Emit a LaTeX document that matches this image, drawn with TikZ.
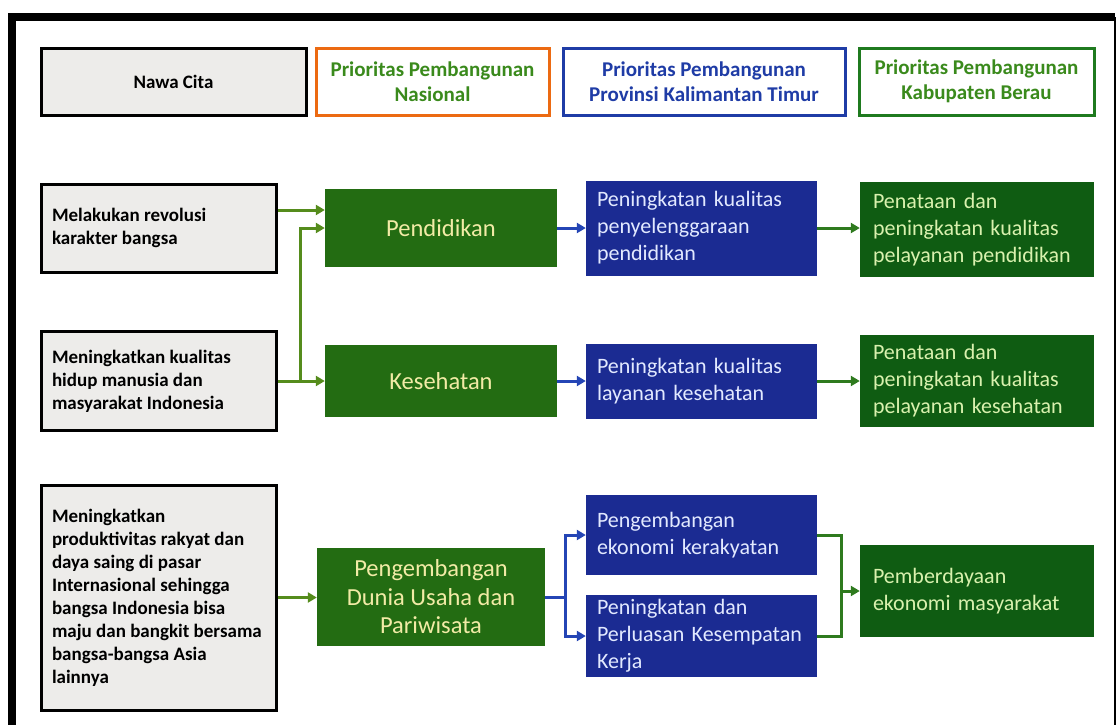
\documentclass[tikz,border=0pt]{standalone}
\usepackage{fontspec}
\setmainfont{Carlito}
\usetikzlibrary{arrows.meta}
\definecolor{lgray}{HTML}{EDECEA}
\definecolor{orangeb}{HTML}{EC6A12}
\definecolor{hgreen}{HTML}{3A8A1C}
\definecolor{hblue}{HTML}{1F3CA6}
\definecolor{kgreen}{HTML}{1F7A1F}
\definecolor{gfillA}{HTML}{236C12}
\definecolor{gtextA}{HTML}{F2EBA6}
\definecolor{bfill}{HTML}{1B2B92}
\definecolor{btext}{HTML}{E2E9FF}
\definecolor{gfillB}{HTML}{0F5C12}
\definecolor{gtextB}{HTML}{D9F1AE}
\definecolor{arrA}{HTML}{558C1C}
\definecolor{arrB}{HTML}{2E7A1E}
\definecolor{arrC}{HTML}{2445B5}
\begin{document}
\begin{tikzpicture}[x=1pt,y=-1pt,
  hdr/.style={draw=#1, line width=3pt, fill=white, font=\bfseries\fontsize{21}{25.5}\selectfont, align=center, inner sep=0pt, minimum height=67pt},
  lbox/.style={draw=black, line width=3pt, fill=lgray, font=\bfseries\fontsize{19}{23}\selectfont, align=left, inner xsep=11pt, inner ysep=0pt, text width=213pt, execute at begin node={\spaceskip=0pt\xspaceskip=0pt\relax}},
  colA/.style={fill=gfillA, text=gtextA, font=\fontsize{24.5}{28.5}\selectfont, align=center, inner sep=0pt},
  colB/.style={fill=bfill, text=btext, font=\fontsize{22}{27}\selectfont, align=left, inner xsep=11pt, inner ysep=0pt, text width=209pt},
  colC/.style={fill=gfillB, text=gtextB, font=\fontsize{22}{27}\selectfont, align=left, inner xsep=13pt, inner ysep=0pt, text width=208pt},
  ga/.style={draw=arrA, line width=3pt, -{Triangle[length=9pt,width=10pt]}},
  gb/.style={draw=arrB, line width=3pt, -{Triangle[length=9pt,width=10pt]}},
  gbl/.style={draw=arrB, line width=3pt},
  ba/.style={draw=arrC, line width=3pt, -{Triangle[length=9pt,width=10pt]}},
  bal/.style={draw=arrC, line width=3pt}
]
\useasboundingbox (0,0) rectangle (1117,724);
\fill[white] (0,0) rectangle (1117,724);
% frame
\draw[line width=8pt, line join=miter] (12,730) -- (12,17) -- (1115,17);
\draw[line width=2pt] (1115,17) -- (1115,730);

% headers
\node[hdr=black, fill=lgray, minimum width=265pt, font=\bfseries\fontsize{19}{23}\selectfont] (h1) at (173.5,81.5) {Nawa Cita};
\node[hdr=orangeb, text=hgreen, minimum width=233pt] (h2) at (432.5,81.5) {Prioritas Pembangunan\\Nasional};
\node[hdr=hblue, text=hblue, minimum width=282pt] (h3) at (704,81.5) {Prioritas Pembangunan\\Provinsi Kalimantan Timur};
\node[hdr=kgreen, text=hgreen, minimum width=235pt] (h4) at (976.5,81.5) {Prioritas Pembangunan\\Kabupaten Berau};

% row 1
\node[lbox, minimum height=88pt] (m1) at (158.5,228) {Melakukan revolusi\\karakter bangsa};
\node[colA, minimum width=232pt, minimum height=78pt] (pend) at (441,228) {Pendidikan};
\node[colB, minimum height=95pt] (b1) at (701.5,228) {Peningkatan kualitas\\penyelenggaraan\\pendidikan};
\node[colC, minimum height=95pt] (g1) at (977,229.5) {Penataan dan\\peningkatan kualitas\\pelayanan pendidikan};

% row 2
\node[lbox, minimum height=99pt] (m2) at (158.5,381) {Meningkatkan kualitas\\hidup manusia dan\\masyarakat Indonesia};
\node[colA, minimum width=232pt, minimum height=72pt] (kes) at (441,381) {Kesehatan};
\node[colB, minimum height=75pt] (b2) at (701.5,381) {Peningkatan kualitas\\layanan kesehatan};
\node[colC, minimum height=92pt] (g2) at (977,381) {Penataan dan\\peningkatan kualitas\\pelayanan kesehatan};

% row 3
\node[lbox, minimum height=225pt] (m3) at (158.5,597.5) {Meningkatkan\\produktivitas rakyat dan\\daya saing di pasar\\Internasional sehingga\\bangsa Indonesia bisa\\maju dan bangkit bersama\\bangsa-bangsa Asia\\lainnya};
\node[colA, minimum width=228pt, minimum height=98pt] (peng) at (431,597) {Pengembangan\\Dunia Usaha dan\\Pariwisata};
\node[colB, minimum height=80pt] (b3a) at (701.5,535) {Pengembangan\\ekonomi kerakyatan};
\node[colB, minimum height=82pt] (b3b) at (701.5,636) {Peningkatan dan\\Perluasan Kesempatan\\Kerja};
\node[colC, minimum height=92pt] (g3) at (977,591) {Pemberdayaan\\ekonomi masyarakat};

% connectors row 1/2
\coordinate (s1) at (276,210);
\draw[ga] ([yshift=18pt]m1.east) -- (pend.west |- s1);
\draw[ga] (m2.east) -- (kes.west);
\coordinate (j1) at (300,381);
\draw[ga] (j1) |- (pend.west);
\draw[ba] (pend.east) -- (b1.west);
\draw[gb] (b1.east) -- (g1.west |- b1.east);
\draw[ba] (kes.east) -- (b2.west);
\draw[gb] (b2.east) -- (g2.west);

% connectors row 3
\draw[ga] (m3.east) -- (peng.west |- m3.east);
\coordinate (f1) at (565,597);
\draw[bal] (peng.east) -- (f1);
\draw[ba] (f1) |- (b3a.west);
\draw[ba] (f1) |- (b3b.west);
\coordinate (f2) at (841,591);
\draw[gbl] (b3a.east) -| (f2);
\draw[gbl] (b3b.east) -| (f2);
\draw[gb] (f2) -- (g3.west);
\end{tikzpicture}
\end{document}
